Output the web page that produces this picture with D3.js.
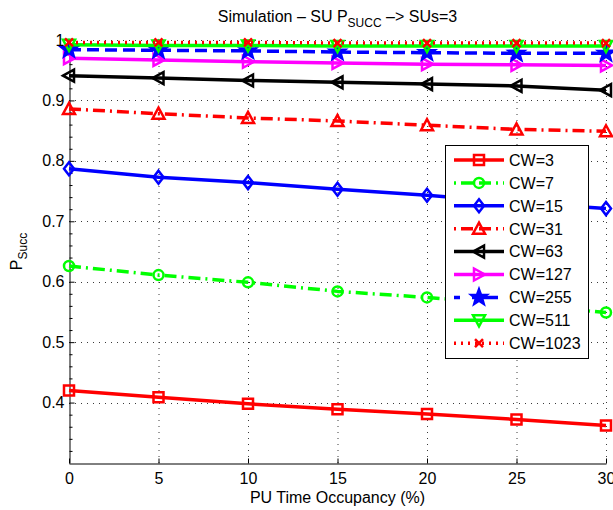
<!DOCTYPE html>
<html>
<head>
<meta charset="utf-8">
<script src="https://cdn.jsdelivr.net/npm/d3@7"></script>
<style>
  html, body { margin: 0; padding: 0; background: #fff; }
  svg { display: block; font-family: "Liberation Sans", Arial, Helvetica, sans-serif; }
</style>
</head>
<body>
<svg id="chart" width="613" height="510"></svg>
<script>
// ---- data -------------------------------------------------------------
const occupancy = [0, 5, 10, 15, 20, 25, 30];
const seriesNames = ["CW=3", "CW=7", "CW=15", "CW=31", "CW=63", "CW=127", "CW=255", "CW=511", "CW=1023"];
const cw3    = [0.420, 0.409, 0.398, 0.389, 0.381, 0.372, 0.362];
const cw7    = [0.626, 0.611, 0.599, 0.584, 0.574, 0.562, 0.549];
const cw15   = [0.787, 0.773, 0.764, 0.753, 0.743, 0.731, 0.721];
const cw31   = [0.886, 0.878, 0.871, 0.866, 0.859, 0.852, 0.849];
const cw63   = [0.941, 0.937, 0.933, 0.930, 0.927, 0.924, 0.917];
const cw127  = [0.970, 0.967, 0.964, 0.962, 0.960, 0.959, 0.958];
const cw255  = [0.984, 0.983, 0.982, 0.980, 0.979, 0.978, 0.978];
const cw511  = [0.992, 0.991, 0.991, 0.990, 0.990, 0.990, 0.990];
const cw1023 = [0.996, 0.996, 0.996, 0.995, 0.995, 0.995, 0.995];
const xTickValues = [0, 5, 10, 15, 20, 25, 30];
const yTickValues = [0.4, 0.5, 0.6, 0.7, 0.8, 0.9, 1.0];
const yTickLabels = ["0.4", "0.5", "0.6", "0.7", "0.8", "0.9", "1"];

const seriesValues = [cw3, cw7, cw15, cw31, cw63, cw127, cw255, cw511, cw1023];

// ---- styles -----------------------------------------------------------
const styles = [
  { color: "#ff0000", dash: null,         marker: "square",   fill: false },
  { color: "#00ff00", dash: "12,5,2,5",   marker: "circle",   fill: false },
  { color: "#0000ff", dash: null,         marker: "diamond",  fill: false },
  { color: "#ff0000", dash: "12,5,2,5",   marker: "triUp",    fill: false },
  { color: "#000000", dash: null,         marker: "triLeft",  fill: false },
  { color: "#ff00ff", dash: null,         marker: "triRight", fill: false },
  { color: "#0000ff", dash: "12,6",       marker: "star",     fill: true  },
  { color: "#00ff00", dash: null,         marker: "triDown",  fill: false },
  { color: "#ff0000", dash: "2,5",        marker: "cross",    fill: false }
];
const legendDash = [null, "2,5,12,6,12,5,2,5", null, "2,5,12,6,12,5,2,5", null, null, "6,12,26,12,6", null, "2,5"];

const W = 613, H = 510;
const plot = { left: 69, right: 606, top: 40, bottom: 463 };
const LINE_W = 3.5, MARK_W = 2.5;

const svg = d3.select("#chart");

const x = d3.scaleLinear().domain([0, 30]).range([plot.left, plot.right]);
const y = d3.scaleLinear().domain([0.3, 1.0]).range([plot.bottom, plot.top]);

// ---- marker shapes (centred on 0,0) -----------------------------------
const shapes = {
  square:   p => { p.rect(-5, -5, 10, 10); },
  circle:   p => { p.moveTo(5, 0); p.arc(0, 0, 5, 0, 2 * Math.PI); },
  diamond:  p => { p.moveTo(0, -6.5); p.lineTo(5, 0); p.lineTo(0, 6.5); p.lineTo(-5, 0); p.closePath(); },
  triUp:    p => { p.moveTo(0, -6); p.lineTo(6, 5); p.lineTo(-6, 5); p.closePath(); },
  triDown:  p => { p.moveTo(0, 6); p.lineTo(6, -5); p.lineTo(-6, -5); p.closePath(); },
  triLeft:  p => { p.moveTo(-6, 0); p.lineTo(5, -6); p.lineTo(5, 6); p.closePath(); },
  triRight: p => { p.moveTo(6, 0); p.lineTo(-5, -6); p.lineTo(-5, 6); p.closePath(); },
  star:     p => {
    const ro = 8, ri = 3.3;
    for (let i = 0; i < 10; i++) {
      const r = i % 2 === 0 ? ro : ri;
      const a = -Math.PI / 2 + i * Math.PI / 5;
      const px = r * Math.cos(a), py = r * Math.sin(a);
      if (i === 0) p.moveTo(px, py); else p.lineTo(px, py);
    }
    p.closePath();
  },
  cross:    p => { p.moveTo(-4, -4); p.lineTo(4, 4); p.moveTo(4, -4); p.lineTo(-4, 4); }
};
function shapePath(name) { const p = d3.path(); shapes[name](p); return p.toString(); }

// ---- grid -------------------------------------------------------------
const grid = svg.append("g").attr("stroke", "#3a3a3a").attr("stroke-width", 1)
  .attr("stroke-dasharray", "1,5").attr("fill", "none");
grid.selectAll("line.v").data(xTickValues.slice(1)).join("line")
  .attr("x1", d => x(d) + 0.5).attr("x2", d => x(d) + 0.5)
  .attr("y1", plot.bottom).attr("y2", plot.top);
grid.selectAll("line.h").data(yTickValues).join("line")
  .attr("y1", d => Math.round(y(d)) + 0.5).attr("y2", d => Math.round(y(d)) + 0.5)
  .attr("x1", plot.left).attr("x2", plot.right);

// ---- axes -------------------------------------------------------------
const fontSize = 16;
const xAxis = d3.axisBottom(x).tickValues(xTickValues).tickFormat(d3.format("d"))
  .tickSizeInner(-5).tickSizeOuter(0).tickPadding(9);
const yAxis = d3.axisLeft(y).tickValues(yTickValues)
  .tickFormat((d, i) => yTickLabels[i]).tickSizeInner(-5).tickSizeOuter(0).tickPadding(5);
const yMinor = d3.axisLeft(y).tickValues(d3.range(0.32, 1.0, 0.02).filter(v => Math.abs(v * 10 - Math.round(v * 10)) > 1e-6))
  .tickFormat("").tickSizeInner(-3).tickSizeOuter(0);

const gx = svg.append("g").attr("transform", `translate(0,${plot.bottom + 0.5})`).call(xAxis);
const gy = svg.append("g").attr("transform", `translate(${plot.left + 0.5},0)`).call(yAxis);
const gm = svg.append("g").attr("transform", `translate(${plot.left + 0.5},0)`).call(yMinor);
gm.select(".domain").remove();
[gx, gy, gm].forEach(g => {
  g.attr("font-family", null).attr("font-size", null);
  g.selectAll("text").attr("font-size", fontSize).attr("fill", "#000");
  g.selectAll("line").attr("stroke", "#000");
  g.select(".domain").attr("stroke", "#000").attr("stroke-width", 1);
});

// ---- series -----------------------------------------------------------
const line = d3.line().x((d, i) => x(occupancy[i])).y(d => y(d));
seriesValues.forEach((vals, s) => {
  const st = styles[s];
  const g = svg.append("g").attr("class", "series");
  g.append("path").datum(vals)
    .attr("d", line).attr("fill", "none").attr("stroke", st.color)
    .attr("stroke-width", LINE_W).attr("stroke-linejoin", "round")
    .attr("stroke-dasharray", st.dash);
  g.selectAll("path.m").data(vals).join("path").attr("class", "m")
    .attr("transform", (d, i) => `translate(${x(occupancy[i])},${y(d)})`)
    .attr("d", shapePath(st.marker))
    .attr("fill", st.fill ? st.color : "none")
    .attr("stroke", st.color).attr("stroke-width", MARK_W)
    .attr("stroke-linejoin", "miter");
});

// ---- legend -----------------------------------------------------------
const lg = { x: 445, y: 145, w: 143, h: 213, row0: 160, step: 22.9 };
const legend = svg.append("g");
legend.append("rect").attr("x", lg.x + 0.5).attr("y", lg.y + 0.5)
  .attr("width", lg.w).attr("height", lg.h)
  .attr("fill", "#fff").attr("stroke", "#000").attr("stroke-width", 1);
seriesNames.forEach((name, s) => {
  const st = styles[s];
  const cy = lg.row0 + s * lg.step;
  legend.append("line").attr("x1", 454).attr("x2", 504).attr("y1", cy).attr("y2", cy)
    .attr("stroke", st.color).attr("stroke-width", LINE_W)
    .attr("stroke-dasharray", legendDash[s]);
  legend.append("path").attr("transform", `translate(479,${cy})`)
    .attr("d", shapePath(st.marker))
    .attr("fill", st.fill ? st.color : "none")
    .attr("stroke", st.color).attr("stroke-width", MARK_W);
  legend.append("text").attr("x", 509).attr("y", cy + 5.8)
    .attr("font-size", fontSize).attr("fill", "#000").text(name);
});

// ---- titles -----------------------------------------------------------
const title = svg.append("text").attr("x", (plot.left + plot.right) / 2).attr("y", 22)
  .attr("text-anchor", "middle").attr("font-size", 16).attr("fill", "#000");
title.append("tspan").text("Simulation – SU P");
title.append("tspan").attr("font-size", 12).attr("dy", 5).text("SUCC");
title.append("tspan").attr("dy", -5).text(" –> SUs=3");

svg.append("text").attr("x", (plot.left + plot.right) / 2).attr("y", 503)
  .attr("text-anchor", "middle").attr("font-size", 16).attr("fill", "#000")
  .text("PU Time Occupancy (%)");

const yl = svg.append("text").attr("transform", `translate(22,${(plot.top + plot.bottom) / 2}) rotate(-90)`)
  .attr("text-anchor", "middle").attr("font-size", 16).attr("fill", "#000");
yl.append("tspan").text("P");
yl.append("tspan").attr("font-size", 12).attr("dy", 5).text("Succ");
</script>
</body>
</html>
